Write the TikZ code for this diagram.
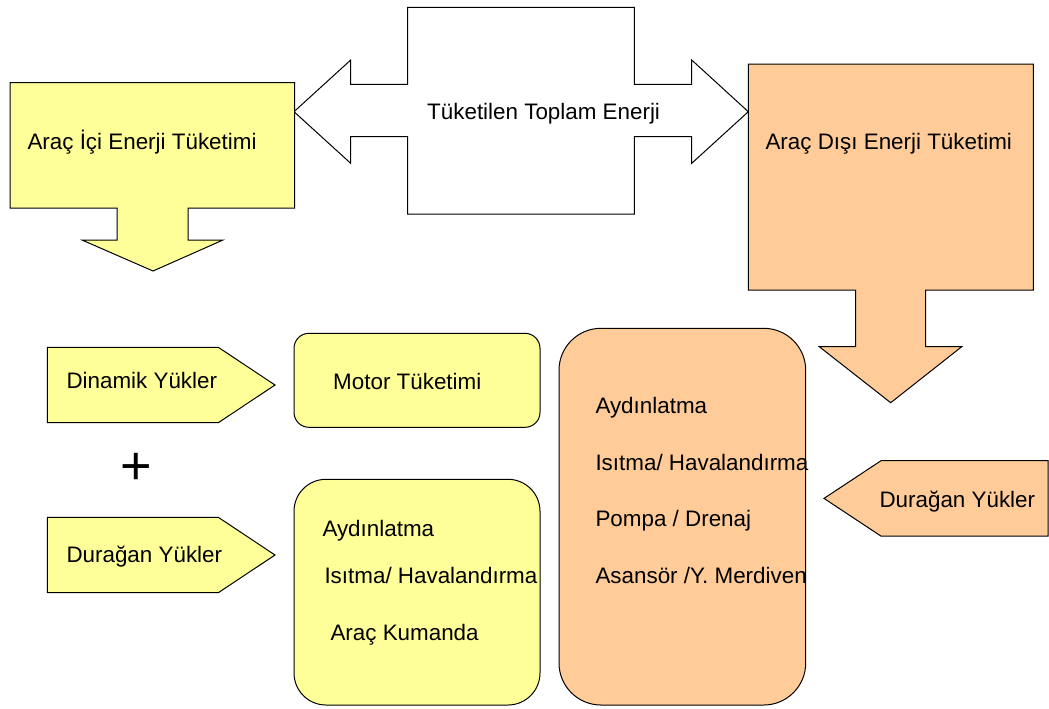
\documentclass[tikz,border=0pt]{standalone}
\usepackage{fontspec}
\setmainfont{Liberation Sans}
\definecolor{inyellow}{HTML}{FFFF99}
\definecolor{outorange}{HTML}{FFCC99}

\begin{document}
\begin{tikzpicture}[%
        x = 0.5pt, y = -0.5pt,
        line width = 0.5pt,
        in_fill/.style = {fill = inyellow, draw = black},
        out_fill/.style = {fill = outorange, draw = black},
        tag_right/.style = {
            insert path = {-- ++(171,0) -- ++(56.7,37.7) -- ++(-56.7,37.7) -- ++(-171,0) -- cycle}
        },
        tag_left/.style = {
            insert path = {-- ++(-167,0) -- ++(-57,37.7) -- ++(57,37.7) -- ++(167,0) -- cycle}
        },
        t_label/.style = {anchor = mid west, inner sep = 0pt, font = \fontsize{11.2}{13}\selectfont}
    ]

        \useasboundingbox (0,0) rectangle (1049,708);

        % Total energy, pointing both ways.
        \draw[fill = white] (294,111.7) -- (350.7,60) -- (350.7,84.3) -- (407.7,84.3)
            -- (407.7,7.3) -- (634.3,7.3) -- (634.3,84.3) -- (691.7,84.3) -- (691.7,60)
            -- (748.3,111.7) -- (691.7,163.3) -- (691.7,136.7) -- (634.3,136.7)
            -- (634.3,214) -- (407.7,214) -- (407.7,136.7) -- (350.7,136.7)
            -- (350.7,163.3) -- cycle;
        \node[t_label] (total) at (426.7,114) {Tüketilen Toplam Enerji};

        % In-vehicle side.
        \draw[in_fill] (10,82.7) -- (294.7,82.7) -- (294.7,208) -- (188,208) -- (188,240)
            -- (223,240) -- (153,271) -- (82,240) -- (117,240) -- (117,208) -- (10,208) -- cycle;
        \node[t_label] (in_use) at (27,144) {Araç İçi Enerji Tüketimi};

        % Out-of-vehicle side.
        \draw[out_fill] (748.3,64) -- (1033.3,64) -- (1033.3,290) -- (925.7,290)
            -- (925.7,346.7) -- (961.7,346.7) -- (890.7,402.7) -- (819.3,346.7)
            -- (855.7,346.7) -- (855.7,290) -- (748.3,290) -- cycle;
        \node[t_label] (out_use) at (765,144) {Araç Dışı Enerji Tüketimi};

        % Loads.
        \draw[in_fill] (47.3,347.3) [tag_right];
        \node[t_label] (dyn_load) at (66,383) {Dinamik Yükler};
        \draw[in_fill] (47.3,517.3) [tag_right];
        \node[t_label] (in_static) at (66,557) {Durağan Yükler};
        \node[inner sep = 0pt, font = \fontsize{27}{27}\selectfont] (plus) at (136.7,469) {+};
        \draw[out_fill] (1048,460.7) [tag_left];
        \node[t_label] (out_static) at (879,502) {Durağan Yükler};

        % Consumers.
        \draw[in_fill, rounded corners = 7.5pt] (294,333.3) rectangle (540,427.3);
        \node[t_label] (motor) at (332.7,384) {Motor Tüketimi};

        \draw[in_fill, rounded corners = 16pt] (294,479.3) rectangle (540,705);
        \node[t_label] (in_light) at (322,531) {Aydınlatma};
        \node[t_label] (in_heat) at (324,578) {Isıtma/ Havalandırma};
        \node[t_label] (in_ctrl) at (330,635) {Araç Kumanda};

        \draw[out_fill, rounded corners = 21pt] (559,328.3) rectangle (805.7,705);
        \node[t_label] (out_light) at (595,408.6) {Aydınlatma};
        \node[t_label] (out_heat) at (595,465) {Isıtma/ Havalandırma};
        \node[t_label] (out_pump) at (595,521) {Pompa / Drenaj};
        \node[t_label] (out_lift) at (595,578) {Asansör /Y. Merdiven};
    \end{tikzpicture}
\end{document}
